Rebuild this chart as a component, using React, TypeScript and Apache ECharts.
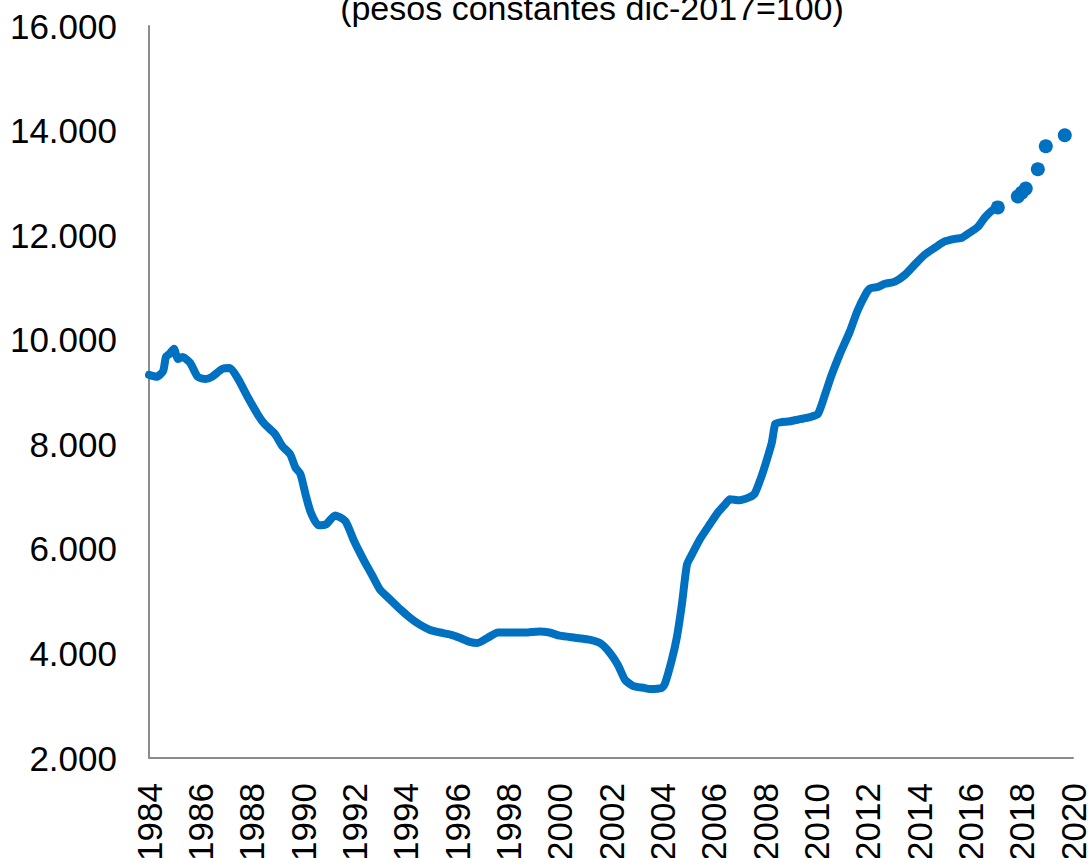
import React, { useEffect, useRef } from "react";
import * as echarts from "echarts";

const subtitle = "(pesos constantes dic-2017=100)";

const lineYears = [
  1984.0, 1984.3, 1984.55, 1984.66, 1984.8, 1984.97, 1985.13, 1985.3, 1985.6, 1985.9,
  1986.2, 1986.45, 1986.85, 1987.15, 1987.47, 1987.85, 1988.25, 1988.5, 1988.9, 1989.2,
  1989.5, 1989.7, 1989.9, 1990.1, 1990.3, 1990.6, 1990.9, 1991.25, 1991.65, 1992.0,
  1992.35, 1992.7, 1993.0, 1993.4, 1993.8, 1994.15, 1994.55, 1994.95, 1995.35, 1995.75,
  1996.1, 1996.5, 1996.8, 1997.2, 1997.6, 1998.05, 1998.65, 1999.2, 1999.6, 2000.0,
  2000.6, 2001.2, 2001.6, 2001.96, 2002.27, 2002.54, 2002.85, 2003.3, 2003.5, 2003.98,
  2004.1, 2004.37, 2004.57, 2004.76, 2004.96, 2005.15, 2005.46, 2005.85, 2006.17, 2006.48,
  2006.63, 2007.0, 2007.4, 2007.6, 2007.88, 2008.1, 2008.27, 2008.4, 2008.6, 2008.97,
  2009.36, 2009.75, 2010.06, 2010.33, 2010.6, 2010.92, 2011.3, 2011.6, 2011.93, 2012.09,
  2012.4, 2012.67, 2013.06, 2013.45, 2013.84, 2014.23, 2014.62, 2015.0, 2015.4, 2015.67,
  2015.98, 2016.3, 2016.57, 2016.84, 2017.07,
];
const lineValues = [
  9326, 9290, 9400, 9670, 9730, 9825, 9630, 9670, 9560, 9290,
  9250, 9290, 9440, 9460, 9250, 8900, 8560, 8390, 8200, 7960,
  7810, 7560, 7430, 7040, 6700, 6450, 6470, 6640, 6530, 6140,
  5800, 5490, 5220, 5030, 4840, 4690, 4550, 4450, 4400, 4360,
  4300, 4220, 4200, 4300, 4400, 4400, 4400, 4420, 4400, 4340,
  4300, 4260, 4190, 4010, 3780, 3500, 3380, 3340, 3320, 3340,
  3420, 3880, 4320, 4930, 5700, 5890, 6180, 6470, 6700, 6870,
  6950, 6930, 6990, 7060, 7410, 7750, 8040, 8390, 8420, 8440,
  8480, 8520, 8580, 8940, 9330, 9730, 10150, 10550, 10880, 10980,
  11010, 11070, 11110, 11240, 11440, 11630, 11760, 11880, 11930, 11950,
  12050, 12160, 12340, 12470, 12530,
];

const dotYears = [2017.85, 2018.0, 2018.16, 2018.63, 2018.94, 2019.68];
const dotValues = [12740, 12810, 12890, 13260, 13700, 13910];

const fmt = (v: number) => {
  const s = String(Math.round(v));
  return s.replace(/\B(?=(\d{3})+(?!\d))/g, ".");
};

export default function App() {
  const ref = useRef<HTMLDivElement>(null);
  useEffect(() => {
    document.body.style.margin = "0";
    document.body.style.overflow = "hidden";
    if (!ref.current) return;
    const chart = echarts.init(ref.current, undefined, { renderer: "svg" });
    const font = "Liberation Sans";
    chart.setOption({
      animation: false,
      backgroundColor: "#ffffff",
      grid: {
        left: 149,
        width: 924,
        top: 26,
        height: 732,
        containLabel: false,
        outerBoundsMode: "none",
      },
      graphic: [
        {
          type: "text",
          x: 592,
          y: 25,
          style: {
            text: subtitle,
            x: 0,
            y: 0,
            fontFamily: font,
            fontSize: 34,
            fill: "#000",
            textAlign: "center",
            textVerticalAlign: "bottom",
          },
        },
      ],
      xAxis: {
        type: "value",
        min: 1984,
        max: 2020,
        interval: 2,
        splitLine: { show: false },
        axisTick: { show: false },
        axisLine: { show: true, onZero: false, lineStyle: { color: "#8c8c8c", width: 2 } },
        axisLabel: {
          rotate: 90,
          margin: 25,
          fontFamily: font,
          fontSize: 35,
          color: "#000",
          formatter: (v: number) => String(v),
        },
      },
      yAxis: {
        type: "value",
        min: 2000,
        max: 16000,
        interval: 2000,
        splitLine: { show: false },
        axisTick: { show: false },
        axisLine: { show: true, lineStyle: { color: "#8c8c8c", width: 2 } },
        axisLabel: {
          margin: 32,
          fontFamily: font,
          fontSize: 35,
          color: "#000",
          formatter: (v: number) => fmt(v),
        },
      },
      series: [
        {
          type: "line",
          data: lineYears.map((y, i) => [y, lineValues[i]]),
          showSymbol: false,
          smooth: 0.2,
          lineStyle: { color: "#0070c0", width: 8, cap: "round", join: "round" },
          markPoint: {
            symbol: "circle",
            symbolSize: 14,
            itemStyle: { color: "#0070c0" },
            label: { show: false },
            data: [{ coord: [lineYears[lineYears.length - 1], lineValues[lineValues.length - 1]] }],
          },
        },
        {
          type: "scatter",
          data: dotYears.map((y, i) => [y, dotValues[i]]),
          symbol: "circle",
          symbolSize: 14,
          itemStyle: { color: "#0070c0", opacity: 1 },
        },
      ],
    });
    return () => chart.dispose();
  }, []);
  return <div ref={ref} style={{ width: 1089, height: 858, position: "relative", overflow: "hidden" }} />;
}
